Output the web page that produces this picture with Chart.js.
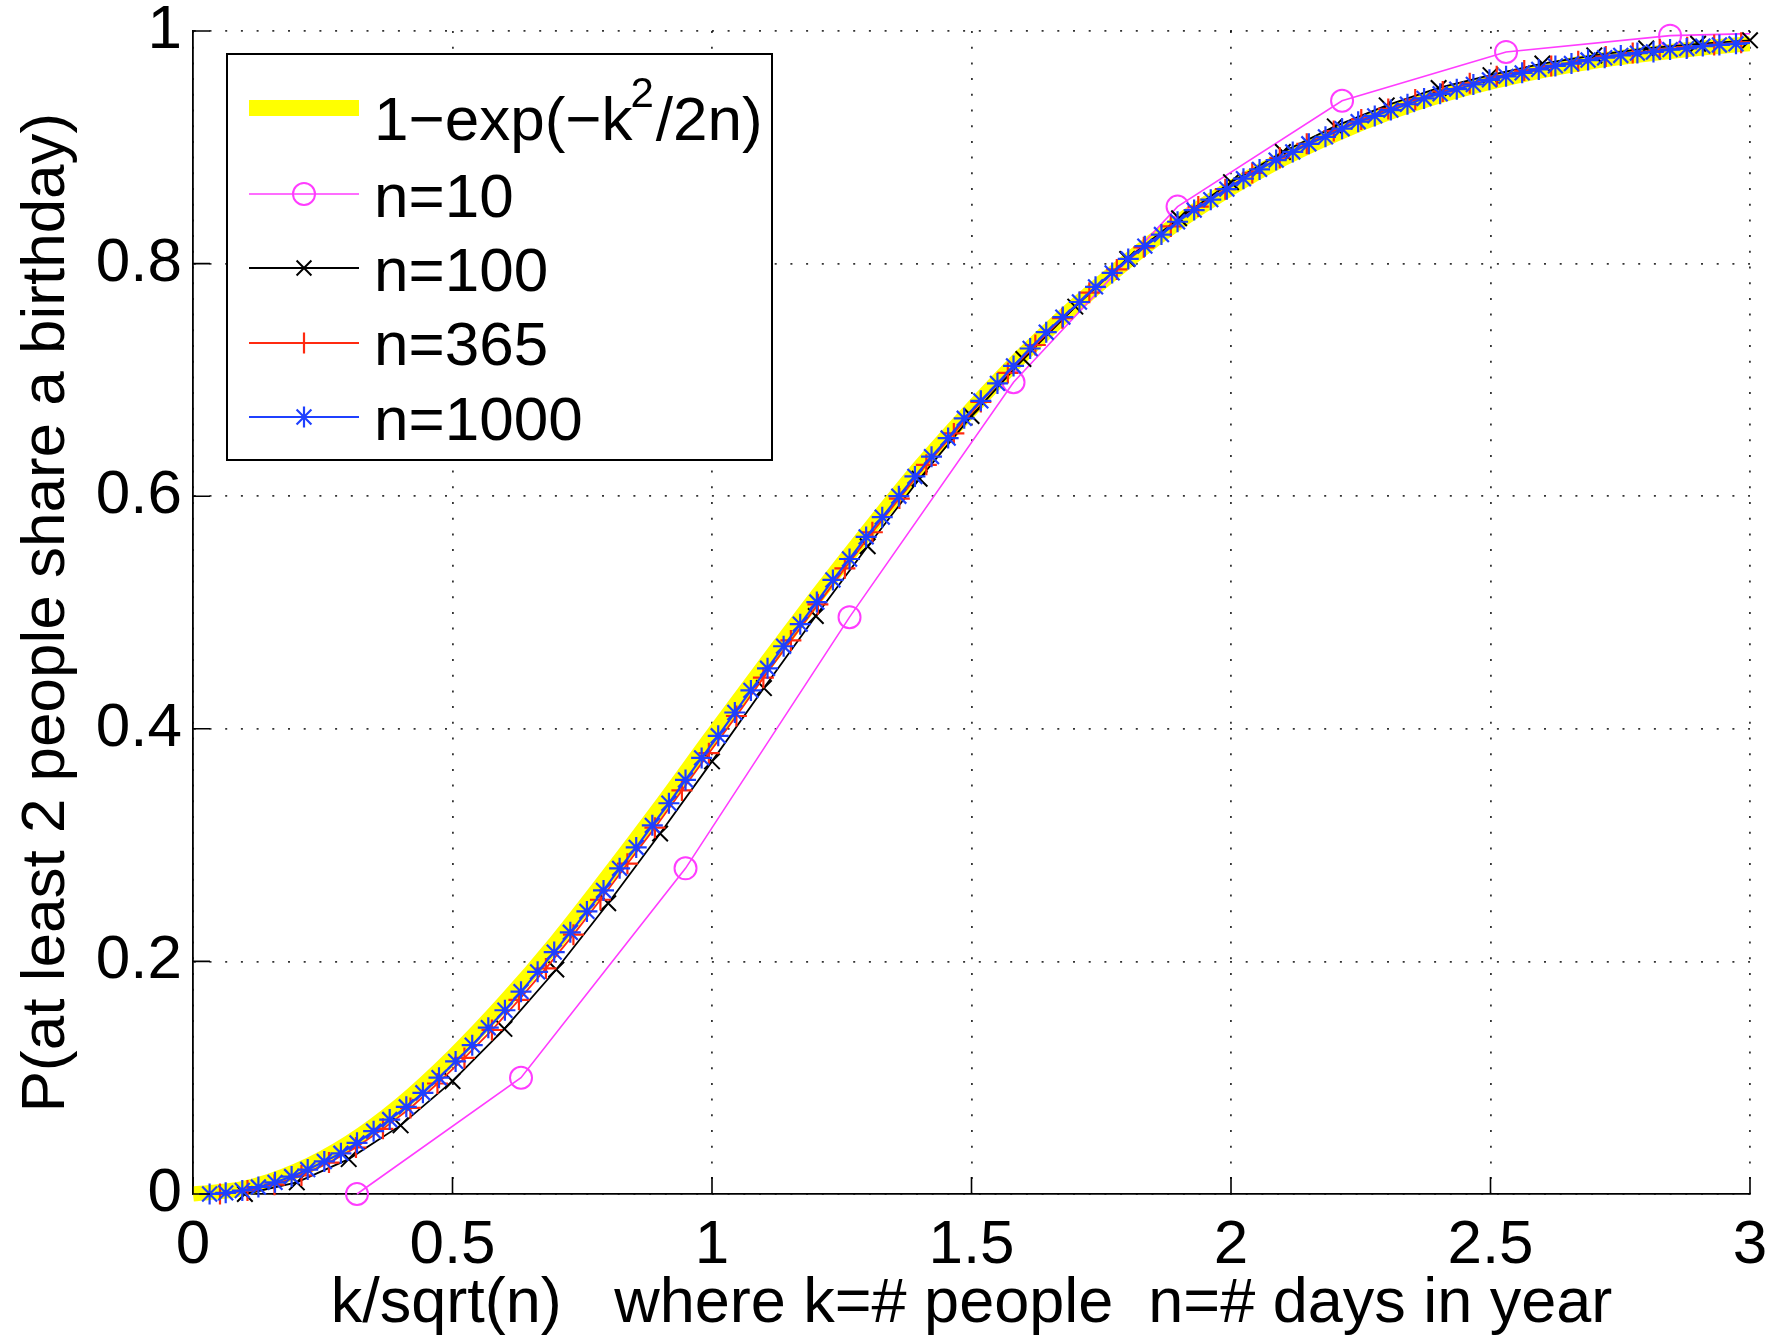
<!DOCTYPE html>
<html>
<head>
<meta charset="utf-8">
<script src="https://cdn.jsdelivr.net/npm/chart.js@4.4.0/dist/chart.umd.min.js"></script>
<style>
  html, body { margin: 0; padding: 0; background: #fff; }
  #wrap { width: 1781px; height: 1340px; }
</style>
</head>
<body>
<div id="wrap"><canvas id="birthday" width="1781" height="1340"></canvas></div>
<script>
// data
var approxX = [0, 0.1, 0.2, 0.3, 0.4, 0.5, 0.6, 0.7, 0.8, 0.9, 1.0, 1.1, 1.2, 1.3, 1.4, 1.5,
  1.6, 1.7, 1.8, 1.9, 2.0, 2.1, 2.2, 2.3, 2.4, 2.5, 2.6, 2.7, 2.8, 2.9, 3.0];
var approxY = [0, 0.005, 0.020, 0.044, 0.077, 0.118, 0.165, 0.217, 0.274, 0.333, 0.394, 0.454,
  0.513, 0.570, 0.625, 0.675, 0.722, 0.764, 0.802, 0.836, 0.865, 0.890, 0.911, 0.929, 0.944,
  0.956, 0.966, 0.974, 0.980, 0.985, 0.989];

var n10X = [0.316, 0.632, 0.949, 1.265, 1.581, 1.897, 2.214, 2.530, 2.846, 3.162];
var n10Y = [0, 0.100, 0.280, 0.496, 0.698, 0.849, 0.940, 0.982, 0.996, 0.9996];

var n100X = [0.1, 0.2, 0.3, 0.4, 0.5, 0.6, 0.7, 0.8, 0.9, 1.0, 1.1, 1.2, 1.3, 1.4, 1.5,
  1.6, 1.7, 1.8, 1.9, 2.0, 2.1, 2.2, 2.3, 2.4, 2.5, 2.6, 2.7, 2.8, 2.9, 3.0];
var n100Y = [0, 0.010, 0.030, 0.059, 0.097, 0.142, 0.193, 0.250, 0.310, 0.372, 0.435, 0.497,
  0.557, 0.615, 0.669, 0.718, 0.763, 0.804, 0.839, 0.870, 0.896, 0.918, 0.936, 0.951, 0.962,
  0.972, 0.979, 0.985, 0.989, 0.992];

var n365X = [0.052, 0.105, 0.157, 0.209, 0.262, 0.314, 0.366, 0.419, 0.471, 0.523, 0.576, 0.628,
  0.680, 0.733, 0.785, 0.837, 0.890, 0.942, 0.994, 1.047, 1.099, 1.152, 1.204, 1.256, 1.309,
  1.361, 1.413, 1.466, 1.518, 1.570, 1.623, 1.675, 1.727, 1.780, 1.832, 1.884, 1.937, 1.989,
  2.041, 2.094, 2.146, 2.198, 2.251, 2.303, 2.355, 2.408, 2.460, 2.512, 2.565, 2.617, 2.669,
  2.722, 2.774, 2.826, 2.879, 2.931, 2.983, 3.036];
var n365Y = [0, 0.003, 0.008, 0.016, 0.027, 0.040, 0.056, 0.074, 0.095, 0.117, 0.141, 0.167,
  0.194, 0.223, 0.253, 0.284, 0.315, 0.347, 0.379, 0.411, 0.444, 0.476, 0.507, 0.538, 0.569,
  0.598, 0.627, 0.654, 0.681, 0.706, 0.730, 0.753, 0.775, 0.795, 0.814, 0.832, 0.849, 0.864,
  0.878, 0.891, 0.903, 0.914, 0.924, 0.933, 0.941, 0.948, 0.955, 0.961, 0.966, 0.970, 0.974,
  0.978, 0.981, 0.984, 0.986, 0.988, 0.990, 0.992];

var n1000X = [0.032, 0.063, 0.095, 0.126, 0.158, 0.190, 0.221, 0.253, 0.285, 0.316, 0.348, 0.379,
  0.411, 0.443, 0.474, 0.506, 0.538, 0.569, 0.601, 0.632, 0.664, 0.696, 0.727, 0.759, 0.791,
  0.822, 0.854, 0.885, 0.917, 0.949, 0.980, 1.012, 1.044, 1.075, 1.107, 1.138, 1.170, 1.202,
  1.233, 1.265, 1.297, 1.328, 1.360, 1.391, 1.423, 1.455, 1.486, 1.518, 1.550, 1.581, 1.613,
  1.644, 1.676, 1.708, 1.739, 1.771, 1.802, 1.834, 1.866, 1.897, 1.929, 1.961, 1.992, 2.024,
  2.055, 2.087, 2.119, 2.150, 2.182, 2.214, 2.245, 2.277, 2.308, 2.340, 2.372, 2.403, 2.435,
  2.467, 2.498, 2.530, 2.561, 2.593, 2.625, 2.656, 2.688, 2.720, 2.751, 2.783, 2.814, 2.846,
  2.878, 2.909, 2.941, 2.973, 3.004];
var n1000Y = [0, 0.001, 0.003, 0.006, 0.010, 0.015, 0.021, 0.028, 0.035, 0.044, 0.054, 0.064,
  0.075, 0.087, 0.100, 0.114, 0.128, 0.143, 0.158, 0.174, 0.191, 0.208, 0.225, 0.243, 0.261,
  0.280, 0.298, 0.317, 0.336, 0.356, 0.375, 0.394, 0.414, 0.433, 0.452, 0.471, 0.490, 0.509,
  0.528, 0.546, 0.565, 0.582, 0.600, 0.617, 0.634, 0.650, 0.667, 0.682, 0.697, 0.712, 0.727,
  0.741, 0.754, 0.767, 0.780, 0.792, 0.804, 0.815, 0.825, 0.836, 0.846, 0.855, 0.864, 0.873,
  0.881, 0.889, 0.896, 0.903, 0.909, 0.916, 0.922, 0.927, 0.932, 0.937, 0.942, 0.946, 0.950,
  0.954, 0.958, 0.961, 0.964, 0.967, 0.970, 0.972, 0.975, 0.977, 0.979, 0.981, 0.982, 0.984,
  0.985, 0.987, 0.988, 0.989, 0.990];

var xTicks = [0, 0.5, 1, 1.5, 2, 2.5, 3];
var yTicks = [0, 0.2, 0.4, 0.6, 0.8, 1];

var FONT = '"Liberation Sans", Arial, Helvetica, sans-serif';

function pairs(xs, ys) {
  return xs.map(function (x, i) { return { x: x, y: ys[i] }; });
}

// markers past x=3 are not drawn (line still runs to the edge)
function markerSize(r) {
  return function (ctx) {
    return ctx.raw && ctx.raw.x > 3 ? 0 : r;
  };
}

var clipEdge = { left: 0, right: 0, top: 30, bottom: 30 };

var data = {
  datasets: [
    {
      label: '1-exp(-k^2/2n)',
      data: pairs(approxX, approxY),
      showLine: true,
      borderColor: '#ffff00',
      borderWidth: 15,
      borderCapStyle: 'butt',
      cubicInterpolationMode: 'monotone',
      pointRadius: 0,
      order: 5,
      clip: clipEdge
    },
    {
      label: 'n=10',
      data: pairs(n10X, n10Y),
      showLine: true,
      borderColor: '#ff3cff',
      borderWidth: 1.6,
      pointStyle: 'circle',
      pointRadius: markerSize(11),
      pointBorderWidth: 2,
      pointBorderColor: '#ff3cff',
      pointBackgroundColor: 'rgba(0,0,0,0)',
      order: 4,
      clip: clipEdge
    },
    {
      label: 'n=100',
      data: pairs(n100X, n100Y),
      showLine: true,
      borderColor: '#000000',
      borderWidth: 1.8,
      pointStyle: 'crossRot',
      pointRadius: markerSize(11),
      pointBorderWidth: 2,
      pointBorderColor: '#000000',
      order: 3,
      clip: { left: 0, right: 30, top: 30, bottom: 30 }
    },
    {
      label: 'n=365',
      data: pairs(n365X, n365Y),
      showLine: true,
      borderColor: '#ff2a10',
      borderWidth: 1.8,
      pointStyle: 'cross',
      pointRadius: markerSize(10.5),
      pointBorderWidth: 2.2,
      pointBorderColor: '#ff2a10',
      order: 2,
      clip: clipEdge
    },
    {
      label: 'n=1000',
      data: pairs(n1000X, n1000Y),
      showLine: true,
      borderColor: '#1f40ff',
      borderWidth: 2.2,
      pointStyle: 'star',
      pointRadius: markerSize(10.5),
      pointBorderWidth: 2.2,
      pointBorderColor: '#1f40ff',
      order: 1,
      clip: clipEdge
    }
  ]
};

// inward tick marks like the original axes
var innerTicks = {
  id: 'innerTicks',
  afterDatasetsDraw(chart) {
    const { ctx, chartArea: { left, bottom } } = chart;
    const xs = chart.scales.x, ys = chart.scales.y;
    const len = 17;
    ctx.save();
    ctx.strokeStyle = '#000';
    ctx.lineWidth = 1.6;
    ctx.beginPath();
    xTicks.forEach(function (v) {
      const px = xs.getPixelForValue(v);
      ctx.moveTo(px, bottom);
      ctx.lineTo(px, bottom - len);
    });
    yTicks.forEach(function (v) {
      const py = ys.getPixelForValue(v);
      ctx.moveTo(left, py);
      ctx.lineTo(left + len, py);
    });
    ctx.stroke();
    ctx.restore();
  }
};

function drawMarker(ctx, style, x, y, r) {
  ctx.beginPath();
  if (style === 'circle') {
    ctx.arc(x, y, r, 0, Math.PI * 2);
  } else {
    var d = r * Math.SQRT1_2;
    if (style === 'cross' || style === 'star') {
      ctx.moveTo(x, y - r); ctx.lineTo(x, y + r);
      ctx.moveTo(x - r, y); ctx.lineTo(x + r, y);
    }
    if (style === 'crossRot' || style === 'star') {
      ctx.moveTo(x - d, y - d); ctx.lineTo(x + d, y + d);
      ctx.moveTo(x - d, y + d); ctx.lineTo(x + d, y - d);
    }
  }
  ctx.stroke();
}

// boxed legend in the upper left of the axes
var boxLegend = {
  id: 'boxLegend',
  afterDraw(chart) {
    const ctx = chart.ctx;
    const box = { x: 227, y: 54, w: 545, h: 406 };
    const lineX1 = 249, lineX2 = 359, markX = 304, textX = 374;
    ctx.save();
    ctx.fillStyle = '#fff';
    ctx.fillRect(box.x, box.y, box.w, box.h);
    ctx.strokeStyle = '#000';
    ctx.lineWidth = 2;
    ctx.strokeRect(box.x, box.y, box.w, box.h);

    // row 0: yellow curve with superscript
    ctx.strokeStyle = '#ffff00';
    ctx.lineWidth = 16;
    ctx.beginPath();
    ctx.moveTo(lineX1, 108);
    ctx.lineTo(lineX2, 108);
    ctx.stroke();

    ctx.fillStyle = '#000';
    ctx.textBaseline = 'alphabetic';
    ctx.textAlign = 'left';
    ctx.font = '62px ' + FONT;
    let tx = textX;
    const part1 = '1\u2212exp(\u2212k';
    ctx.fillText(part1, tx, 140);
    tx += ctx.measureText(part1).width;
    ctx.font = '42px ' + FONT;
    ctx.fillText('2', tx - 2, 107);
    tx += ctx.measureText('2').width;
    ctx.font = '62px ' + FONT;
    ctx.fillText('/2n)', tx, 140);

    const rows = [
      { ds: 1, y: 194, base: 217 },
      { ds: 2, y: 268, base: 291 },
      { ds: 3, y: 343, base: 365 },
      { ds: 4, y: 417, base: 440 }
    ];
    rows.forEach(function (row) {
      const d = chart.data.datasets[row.ds];
      ctx.strokeStyle = d.borderColor;
      ctx.lineWidth = d.borderWidth;
      ctx.beginPath();
      ctx.moveTo(lineX1, row.y);
      ctx.lineTo(lineX2, row.y);
      ctx.stroke();
      ctx.lineWidth = d.pointBorderWidth;
      drawMarker(ctx, d.pointStyle, markX, row.y, d.pointStyle === 'circle' ? 11 : 10.5);
      ctx.fillStyle = '#000';
      ctx.font = '62px ' + FONT;
      ctx.fillText(d.label, textX, row.base);
    });
    ctx.restore();
  }
};

function plainLabel(v) { return String(Math.round(v * 10) / 10); }

var config = {
  type: 'scatter',
  data,
  options: {
    responsive: false,
    animation: false,
    events: [],
    layout: { padding: { top: 31, right: 31, left: 0, bottom: 0 } },
    plugins: {
      legend: { display: false },
      tooltip: { enabled: false }
    },
    scales: {
      x: {
        type: 'linear',
        min: 0,
        max: 3,
        afterFit(scale) {
          scale.height = 146;
          scale.paddingLeft = 0;
          scale.paddingRight = 0;
        },
        afterBuildTicks(scale) { scale.ticks = xTicks.map(function (v) { return { value: v }; }); },
        ticks: { font: { size: 62, family: FONT }, color: '#000', padding: 15, maxRotation: 0, callback: plainLabel },
        grid: { color: 'rgba(0,0,0,0.8)', lineWidth: 1.8, drawTicks: false },
        border: { display: true, color: '#000', width: 1.8, dash: [2, 13.7] },
        title: {
          display: true,
          text: 'k/sqrt(n)   where k=# people  n=# days in year',
          color: '#000',
          font: { size: 63, family: FONT, lineHeight: 1 },
          padding: { top: 0, bottom: 4 }
        }
      },
      y: {
        type: 'linear',
        min: 0,
        max: 1,
        afterFit(scale) {
          scale.width = 193;
          scale.paddingTop = 0;
          scale.paddingBottom = 0;
        },
        afterBuildTicks(scale) { scale.ticks = yTicks.map(function (v) { return { value: v }; }); },
        ticks: { font: { size: 62, family: FONT }, color: '#000', padding: 11, callback: plainLabel },
        grid: { color: 'rgba(0,0,0,0.8)', lineWidth: 1.8, drawTicks: false },
        border: { display: true, color: '#000', width: 1.8, dash: [2, 13.7] },
        title: {
          display: true,
          text: 'P(at least 2 people share a birthday)',
          color: '#000',
          font: { size: 62, family: FONT, lineHeight: 1 },
          padding: { top: 16, bottom: 0 }
        }
      }
    }
  },
  plugins: [innerTicks, boxLegend]
};

var birthdayChart = new Chart(document.getElementById('birthday'), config);
</script>
</body>
</html>
